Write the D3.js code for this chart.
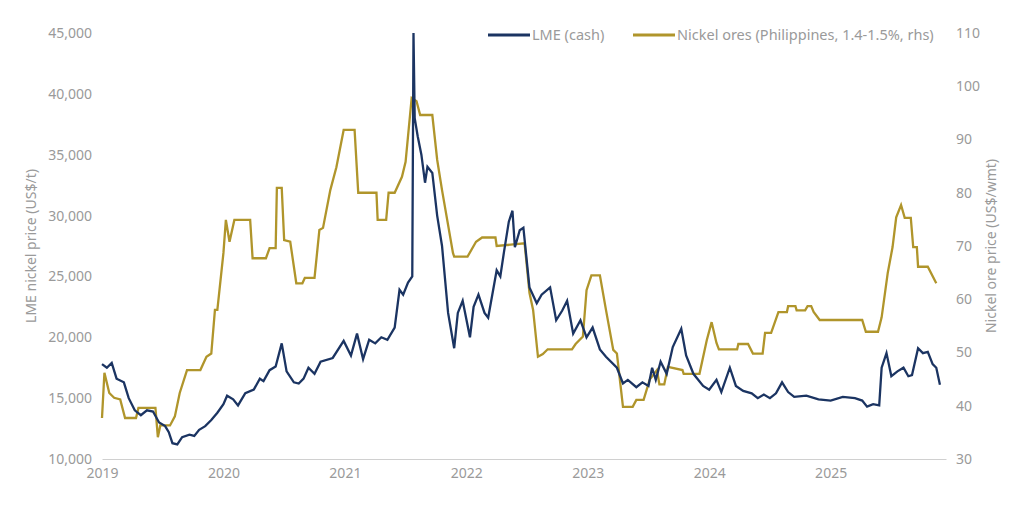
<!DOCTYPE html>
<html><head><meta charset="utf-8">
<script src="https://cdn.jsdelivr.net/npm/d3@7"></script>
<style>body{margin:0;background:#fff}text{font-family:"Source Sans Pro","Noto Sans",sans-serif}</style>
</head><body><svg id="c" width="1024" height="509"></svg>
<script>
const xTicks=[2019,2020,2021,2022,2023,2024,2025];
const leftTicks=[10000,15000,20000,25000,30000,35000,40000,45000];
const rightTicks=[30,40,50,60,70,80,90,100,110];
const lmeYears=[2019.00,2019.04,2019.08,2019.12,2019.18,2019.22,2019.27,2019.32,2019.37,2019.42,2019.47,2019.52,2019.55,2019.58,2019.62,2019.66,2019.72,2019.76,2019.80,2019.85,2019.90,2019.95,2020.00,2020.03,2020.08,2020.12,2020.18,2020.25,2020.30,2020.33,2020.38,2020.43,2020.48,2020.52,2020.58,2020.62,2020.66,2020.70,2020.75,2020.80,2020.90,2020.99,2021.05,2021.10,2021.15,2021.20,2021.25,2021.30,2021.35,2021.41,2021.45,2021.48,2021.52,2021.555,2021.565,2021.575,2021.60,2021.63,2021.66,2021.68,2021.72,2021.76,2021.80,2021.85,2021.90,2021.93,2021.97,2022.03,2022.06,2022.10,2022.15,2022.18,2022.25,2022.28,2022.31,2022.35,2022.38,2022.40,2022.44,2022.47,2022.52,2022.58,2022.62,2022.69,2022.74,2022.79,2022.83,2022.88,2022.94,2022.99,2023.04,2023.10,2023.15,2023.24,2023.29,2023.33,2023.40,2023.45,2023.50,2023.53,2023.56,2023.60,2023.65,2023.70,2023.77,2023.81,2023.87,2023.95,2024.00,2024.06,2024.10,2024.17,2024.22,2024.28,2024.35,2024.40,2024.45,2024.50,2024.55,2024.60,2024.65,2024.70,2024.80,2024.90,2025.00,2025.10,2025.20,2025.26,2025.30,2025.35,2025.40,2025.42,2025.46,2025.50,2025.55,2025.60,2025.64,2025.67,2025.72,2025.76,2025.80,2025.84,2025.87,2025.90];
const lmeValues=[17800,17500,17900,16600,16300,15000,14000,13600,14000,13900,13000,12700,12200,11300,11200,11800,12000,11900,12400,12700,13200,13800,14500,15200,14900,14400,15400,15700,16600,16400,17300,17600,19500,17200,16300,16200,16600,17500,17000,18000,18300,19700,18500,20300,18200,19800,19500,20000,19800,20800,23900,23500,24500,25000,45000,38000,36500,35000,32700,34000,33500,30000,27500,22000,19100,22000,23000,20000,22500,23500,22000,21600,25500,25000,27000,29500,30400,27400,28800,29000,24100,22800,23500,24100,21400,22200,23000,20300,21400,20000,20800,19000,18400,17500,16200,16500,15900,16300,16000,17500,16500,18000,17000,19200,20700,18500,17000,16000,15700,16500,15500,17500,16000,15600,15400,15000,15300,15000,15400,16300,15500,15100,15200,14900,14800,15100,15000,14800,14300,14500,14400,17500,18700,16800,17200,17500,16800,16900,19100,18700,18800,17800,17500,16100];
const oreYears=[2019.00,2019.02,2019.06,2019.10,2019.15,2019.19,2019.28,2019.30,2019.44,2019.46,2019.48,2019.56,2019.60,2019.64,2019.70,2019.81,2019.86,2019.90,2019.93,2019.95,2020.00,2020.02,2020.05,2020.09,2020.22,2020.24,2020.35,2020.38,2020.43,2020.44,2020.48,2020.50,2020.55,2020.60,2020.65,2020.67,2020.75,2020.79,2020.82,2020.88,2020.93,2020.99,2021.08,2021.11,2021.26,2021.27,2021.34,2021.36,2021.41,2021.47,2021.50,2021.55,2021.59,2021.62,2021.72,2021.76,2021.80,2021.89,2021.90,2022.01,2022.08,2022.13,2022.24,2022.25,2022.48,2022.52,2022.55,2022.59,2022.63,2022.67,2022.87,2022.90,2022.96,2022.99,2023.03,2023.10,2023.15,2023.21,2023.24,2023.29,2023.37,2023.40,2023.46,2023.51,2023.57,2023.59,2023.63,2023.66,2023.78,2023.79,2023.92,2023.98,2024.02,2024.06,2024.08,2024.23,2024.24,2024.32,2024.36,2024.44,2024.46,2024.51,2024.57,2024.64,2024.65,2024.71,2024.72,2024.79,2024.81,2024.84,2024.86,2024.91,2025.26,2025.29,2025.39,2025.42,2025.47,2025.51,2025.54,2025.58,2025.61,2025.66,2025.68,2025.71,2025.72,2025.80,2025.87];
const oreValues=[37.7,46.2,42.4,41.5,41.2,37.7,37.7,39.6,39.6,34.1,36.3,36.3,38,42.4,46.7,46.7,49.2,49.8,58,58,68.7,74.9,70.8,74.9,74.9,67.7,67.7,69.6,69.6,80.9,80.9,71.1,70.8,63,63,64,64,73,73.4,80.5,84.8,91.8,91.8,80,80,74.9,74.9,80,80,83,85.8,97.8,97.2,94.6,94.6,86.2,80.5,68.7,68,68,70.8,71.6,71.6,70,70.5,61.2,58,49.2,49.7,50.6,50.6,51.6,53,61.7,64.5,64.5,58,50.5,49.8,39.8,39.8,41.1,41.1,44.9,46.7,44,44,47.3,46.7,46,46,52.3,55.7,51.8,50.6,50.6,51.6,51.6,49.8,49.8,53.7,53.7,57.6,57.6,58.7,58.7,57.9,57.9,58.7,58.7,57.6,56.1,56.1,53.9,53.9,56.6,64.9,69.8,75.4,77.7,75.3,75.3,69.8,69.8,66.1,66.1,63];

const svg=d3.select("#c");
const x=d3.scaleLinear().domain([2019,2025.95]).range([102,946]);
const yL=d3.scaleLinear().domain([10000,45000]).range([459,33]);
const yR=d3.scaleLinear().domain([30,110]).range([459,33]);
const gray="#9a9a9a";
const navy="#1b3462", gold="#b0952b";

const bx=svg.append("g").attr("transform","translate(0,459)")
 .call(d3.axisBottom(x).tickValues(xTicks).tickFormat(d3.format("d")).tickSize(0).tickPadding(9));
bx.select(".domain").attr("stroke","#d0d0d0");
const al=svg.append("g").attr("transform","translate(96,0)")
 .call(d3.axisLeft(yL).tickValues(leftTicks).tickFormat(d3.format(",")).tickSize(0).tickPadding(4));
al.select(".domain").remove();
const ar=svg.append("g").attr("transform","translate(952,0)")
 .call(d3.axisRight(yR).tickValues(rightTicks).tickSize(0).tickPadding(4));
ar.select(".domain").remove();
svg.selectAll(".tick text").attr("fill",gray).attr("font-size",14).attr("font-family","'Source Sans Pro','Noto Sans',sans-serif");

svg.append("text").attr("transform","translate(36,246) rotate(-90)").attr("text-anchor","middle")
 .attr("fill",gray).attr("font-size",14).text("LME nickel price (US$/t)");
svg.append("text").attr("transform","translate(996,246) rotate(-90)").attr("text-anchor","middle")
 .attr("fill",gray).attr("font-size",14).text("Nickel ore price (US$/wmt)");

const lme=lmeYears.map((d,i)=>[d,lmeValues[i]]);
const ore=oreYears.map((d,i)=>[d,oreValues[i]]);
svg.append("path").datum(ore).attr("fill","none").attr("stroke",gold).attr("stroke-width",2.3)
 .attr("d",d3.line().x(d=>x(d[0])).y(d=>yR(d[1])));
svg.append("path").datum(lme).attr("fill","none").attr("stroke",navy).attr("stroke-width",2.3)
 .attr("d",d3.line().x(d=>x(d[0])).y(d=>yL(d[1])));

const leg=[{t:"LME (cash)",c:navy,x:488},{t:"Nickel ores (Philippines, 1.4-1.5%, rhs)",c:gold,x:633}];
leg.forEach(l=>{
 svg.append("line").attr("x1",l.x).attr("x2",l.x+42).attr("y1",35).attr("y2",35).attr("stroke",l.c).attr("stroke-width",3);
 svg.append("text").attr("x",l.x+44).attr("y",40).attr("fill",gray).attr("font-size",14.5).text(l.t);
});
</script></body></html>
